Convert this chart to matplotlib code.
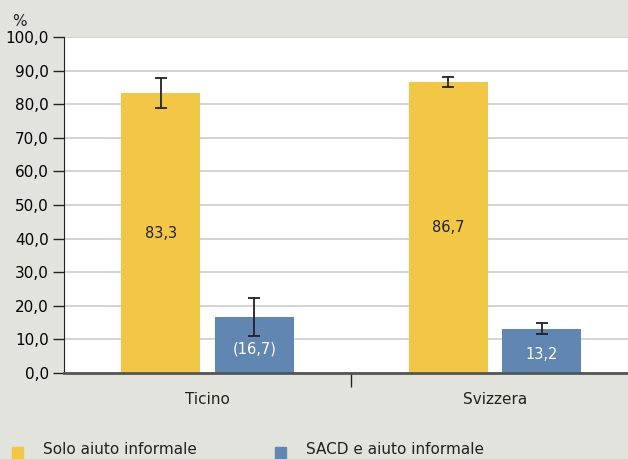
import numpy as np
import matplotlib.pyplot as plt
from matplotlib.patches import Rectangle

categories = ['Ticino', 'Svizzera']
series_names = ['Solo aiuto informale', 'SACD e aiuto informale']
solo = [83.3, 86.7]
solo_err = [4.5, 1.5]
sacd = [16.7, 13.2]
sacd_err = [5.7, 1.6]
solo_labels = ['83,3', '86,7']
sacd_labels = ['(16,7)', '13,2']
yticks = np.arange(0, 101, 10)

yellow = '#F2C745'
blue = '#6286B2'
bg = '#E3E3DD'

plt.rcParams['font.family'] = ['Liberation Sans Narrow', 'DejaVu Sans Condensed', 'DejaVu Sans']

fig = plt.figure(figsize=(6.28, 4.59), dpi=100, facecolor=bg)
# axes box in pixels: left 64, right 628, top 37, bottom 373
ax = fig.add_axes([64 / 628, 1 - 373 / 459, (628 - 64) / 628, (373 - 37) / 459])
ax.set_facecolor('white')

x = np.arange(len(categories))
w = 0.275
off = 0.163
ax.bar(x - off, solo, w, color=yellow, zorder=3)
ax.bar(x + off, sacd, w, color=blue, zorder=3)
ax.errorbar(x - off, solo, yerr=solo_err, fmt='none', ecolor='#222222',
            elinewidth=1.3, capsize=4, capthick=1.3, zorder=4)
ax.errorbar(x + off, sacd, yerr=sacd_err, fmt='none', ecolor='#222222',
            elinewidth=1.3, capsize=4, capthick=1.3, zorder=4)

for i in range(len(categories)):
    ax.text(x[i] - off, solo[i] / 2, solo_labels[i], ha='center', va='center',
            fontsize=10.5, color='#222222', zorder=5)
    ax.text(x[i] + off, sacd[i] / 2 - 1.2, sacd_labels[i], ha='center', va='center',
            fontsize=10.5, color='white', zorder=5)

ax.set_ylim(0, 100)
ax.set_xlim(-0.5, (628 - 208) / 287)
ax.set_yticks(yticks)
ax.set_yticklabels([f'{v:.1f}'.replace('.', ',') for v in yticks], fontsize=11)
ax.yaxis.grid(True, color='#CDCDCD', lw=1.2, zorder=0)
ax.tick_params(axis='y', length=8, width=1, color='#222222', pad=3)

ax.set_xticks([0.5])
ax.set_xticklabels([''])
ax.tick_params(axis='x', length=10, width=1, color='#222222', direction='out')
for i, c in enumerate(categories):
    ax.text(x[i], -8, c, ha='center', va='center', fontsize=11, color='#222222')

for s in ['top', 'right']:
    ax.spines[s].set_visible(False)
ax.spines['left'].set_color('#222222')
ax.spines['bottom'].set_color('#555555')
ax.spines['bottom'].set_linewidth(2)
ax.spines['bottom'].set_zorder(6)

fig.text(12 / 628, 1 - 22 / 459, '%', fontsize=11, ha='left', va='center', color='#222222')

# legend along the bottom edge
leg_items = [(12, 43, yellow, series_names[0]), (275, 306, blue, series_names[1])]
for sx, tx, col, name in leg_items:
    fig.patches.append(Rectangle((sx / 628, 0), 11 / 628, 12 / 459, transform=fig.transFigure,
                                 color=col, figure=fig))
    fig.text(tx / 628, 2 / 459, name, fontsize=11, ha='left', va='bottom', color='#222222')

fig.savefig('out.png', dpi=100, facecolor=bg)
